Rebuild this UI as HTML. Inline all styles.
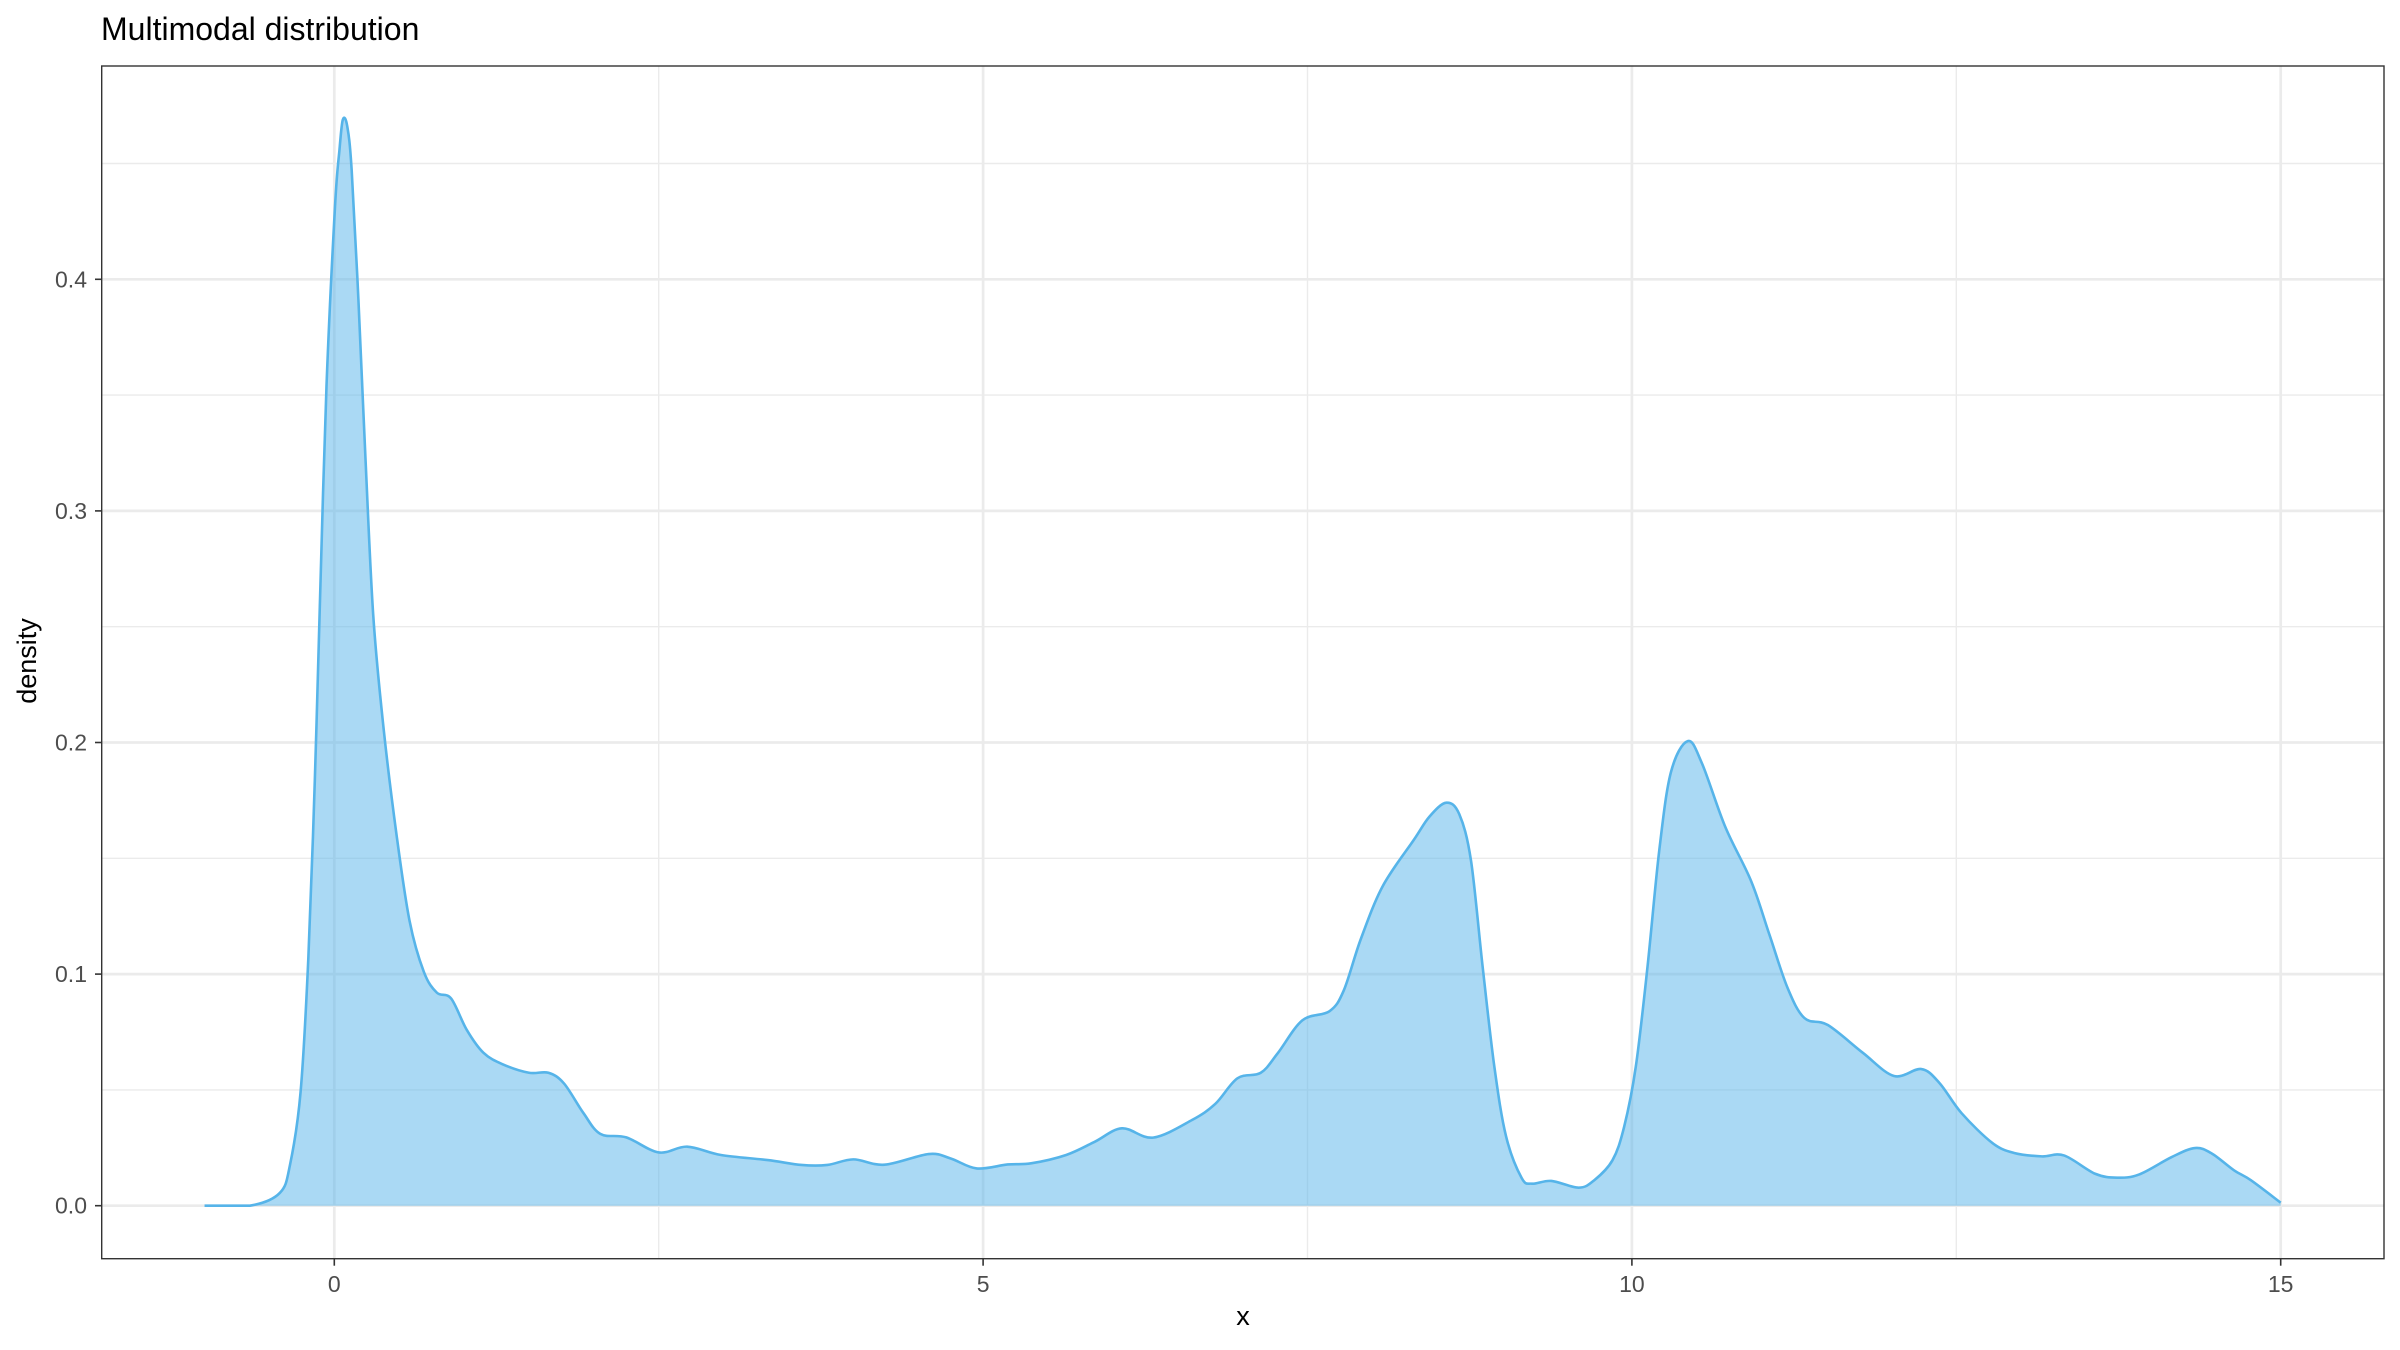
<!DOCTYPE html>
<html><head><meta charset="utf-8"><style>
html,body{margin:0;padding:0;background:#fff;}
svg{display:block;font-family:"Liberation Sans",Arial,sans-serif;}
</style></head><body>
<svg id="chart" width="2400" height="1350" viewBox="0 0 2400 1350" xmlns="http://www.w3.org/2000/svg">
<rect x="0" y="0" width="2400" height="1350" fill="#fff"/>
<text x="101" y="40" font-size="32" fill="#000">Multimodal distribution</text>
<g id="grid"></g>
<g id="series"></g>
<rect x="101.7" y="66" width="2282.3" height="1192.7" fill="none" stroke="#333" stroke-width="1.4"/>
<g id="axes"></g>
<text x="1243" y="1325" font-size="27" text-anchor="middle" fill="#000">x</text>
<text transform="translate(36,661) rotate(-90)" font-size="27" text-anchor="middle" fill="#000">density</text>
</svg>
<script>
const xValues = [-1.0,-0.65,-0.42,-0.34,-0.26,-0.2,-0.15,-0.11,-0.06,0.005,
0.04,0.066,0.1,0.134,0.186,0.24,0.3,0.38,0.48,0.58,
0.69,0.79,0.9,1.02,1.15,1.3,1.5,1.65,1.77,1.92,
2.05,2.25,2.5,2.72,2.98,3.34,3.6,3.8,4.0,4.24,
4.58,4.75,4.95,5.19,5.37,5.64,5.86,6.07,6.31,6.61,
6.79,6.96,7.14,7.27,7.46,7.67,7.78,7.91,8.08,8.32,
8.44,8.57,8.67,8.76,8.85,8.94,9.03,9.15,9.23,9.38,
9.59,9.71,9.85,9.94,10.03,10.12,10.21,10.3,10.43,10.54,
10.72,10.92,11.06,11.2,11.33,11.51,11.78,12.02,12.23,12.37,
12.54,12.78,12.95,13.16,13.33,13.57,13.74,13.91,14.16,14.34,
14.47,14.64,14.77,15.0];
const densityValues = [0,0,.0055,.018,.049,.107,.184,.262,.354,.431,
.456,.469,.466,.447,.391,.323,.255,.206,.16,.123,
.101,.092,.0895,.076,.066,.061,.0574,.0574,.0528,.040,
.031,.0295,.023,.0255,.0219,.0197,.0176,.0176,.020,.0177,
.0223,.0204,.0161,.0178,.0183,.0219,.0276,.0334,.0294,.037,
.044,.055,.0574,.0658,.080,.084,.093,.115,.138,.158,
.168,.174,.169,.149,.103,.06,.03,.012,.0095,.0107,
.0078,.011,.0196,.034,.06,.103,.153,.187,.2006,.191,
.1635,.14,.117,.094,.081,.078,.066,.056,.059,.053,
.040,.027,.0227,.0213,.0217,.0138,.0121,.0135,.021,.0249,
.0225,.0153,.011,.0013];
const xTicks = [0,5,10,15];
const xTickLabels = ["0","5","10","15"];
const xMinorTicks = [2.5,7.5,12.5];
const yTicks = [0,0.1,0.2,0.3,0.4];
const yTickLabels = ["0.0","0.1","0.2","0.3","0.4"];
const yMinorTicks = [0.05,0.15,0.25,0.35,0.45];

const NS="http://www.w3.org/2000/svg";
const PL=101.7, PR=2384, PT=66, PB=1258.7;
function sx(v){return 334.3+v*129.76;}
function sy(v){return 1205.7-v*2316;}
function mk(tag,attrs,parent){const e=document.createElementNS(NS,tag);for(const k in attrs)e.setAttribute(k,attrs[k]);parent.appendChild(e);return e;}

const grid=document.getElementById('grid');
yMinorTicks.forEach(v=>{const l=mk('line',{x1:PL,x2:PR,y1:sy(v),y2:sy(v),stroke:'#ebebeb','stroke-width':1.4},grid);

});
xMinorTicks.forEach(v=>{const l=mk('line',{x1:sx(v),x2:sx(v),y1:PT,y2:PB,stroke:'#ebebeb','stroke-width':1.4},grid);

});
yTicks.forEach(v=>{const l=mk('line',{x1:PL,x2:PR,y1:sy(v),y2:sy(v),stroke:'#ebebeb','stroke-width':2.7},grid);

});
xTicks.forEach(v=>{const l=mk('line',{x1:sx(v),x2:sx(v),y1:PT,y2:PB,stroke:'#ebebeb','stroke-width':2.7},grid);

});

// smooth curve (Catmull-Rom)
const pts=xValues.map((x,i)=>[sx(x),sy(densityValues[i])]);
let d='M'+pts[0][0].toFixed(2)+','+pts[0][1].toFixed(2);
for(let i=0;i<pts.length-1;i++){
  const p0=pts[Math.max(0,i-1)],p1=pts[i],p2=pts[i+1],p3=pts[Math.min(pts.length-1,i+2)];
  const t=1/6;
  let c1y=p1[1]+(p2[1]-p0[1])*t, c2y=p2[1]-(p3[1]-p1[1])*t;
  const c1x=p1[0]+(p2[0]-p0[0])*t, c2x=p2[0]-(p3[0]-p1[0])*t;
  c1y=Math.min(c1y,sy(0)); c2y=Math.min(c2y,sy(0));
  d+=' C'+c1x.toFixed(2)+','+c1y.toFixed(2)+' '+c2x.toFixed(2)+','+c2y.toFixed(2)+' '+p2[0].toFixed(2)+','+p2[1].toFixed(2);
}
const series=document.getElementById('series');
const area=mk('path',{d:d+' L'+pts[pts.length-1][0]+','+sy(0)+' L'+pts[0][0]+','+sy(0)+' Z',fill:'#56B4E9','fill-opacity':0.5,stroke:'none'},series);


const line=mk('path',{d:d,fill:'none',stroke:'#56B4E9','stroke-width':2.6,'stroke-linejoin':'round'},series);



const axes=document.getElementById('axes');
yTicks.forEach((v,i)=>{
  const t=mk('line',{x1:95,x2:PL,y1:sy(v),y2:sy(v),stroke:'#333','stroke-width':1.6},axes);
  
  
  const tx=mk('text',{x:87,y:sy(v)+8,'font-size':23,'text-anchor':'end',fill:'#4d4d4d'},axes);
  tx.textContent=yTickLabels[i];
  
  
});
xTicks.forEach((v,i)=>{
  const t=mk('line',{x1:sx(v),x2:sx(v),y1:PB,y2:PB+7,stroke:'#333','stroke-width':1.6},axes);
  
  
  const tx=mk('text',{x:sx(v),y:1292,'font-size':23,'text-anchor':'middle',fill:'#4d4d4d'},axes);
  tx.textContent=xTickLabels[i];
  
  
});
</script>
</body></html>
